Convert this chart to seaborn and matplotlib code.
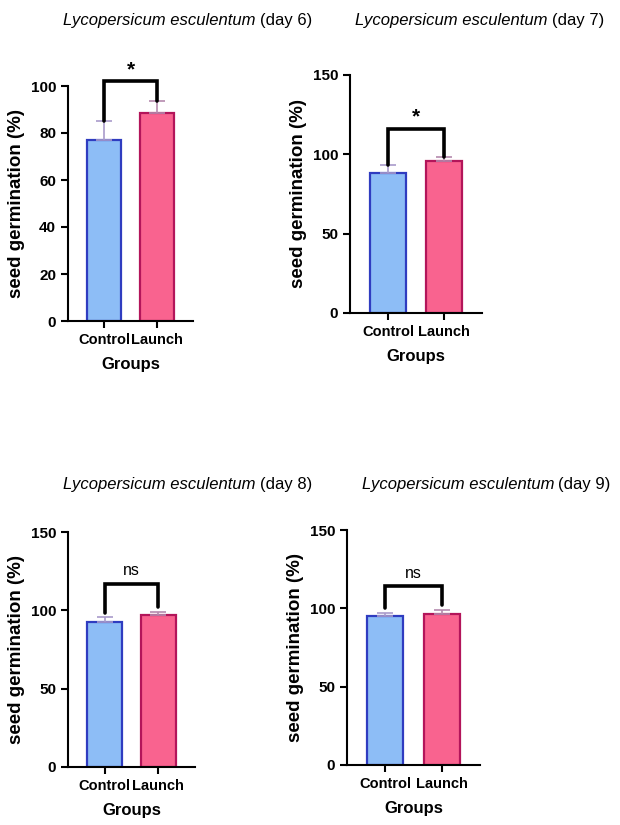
# seed germination bar charts, four days, control vs launch
import numpy as np
import pandas as pd
import matplotlib
matplotlib.use('Agg')
import matplotlib.pyplot as plt
import seaborn as sns

groups = ['Control', 'Launch']
days = ['day 6', 'day 7', 'day 8', 'day 9']
control_mean = [77, 88.5, 92.5, 95]
control_sd = [8, 5, 3, 2]
launch_mean = [88.5, 95.5, 97, 96.5]
launch_sd = [5, 3, 2, 2.5]
bracket_y = [102, 116, 117, 114]
signif = ['*', '*', 'ns', 'ns']
ymax = [100, 150, 150, 150]
ytick_step = [20, 50, 50, 50]

fill_colors = ['#8dbdf6', '#f9638f']
edge_colors = ['#2f3cc0', '#b3155a']
err_colors = ['#a99bcb', '#b58aae']

sns.set_style('ticks', {'axes.edgecolor': 'black', 'xtick.color': 'black',
                        'ytick.color': 'black', 'text.color': 'black',
                        'axes.labelcolor': 'black'})
plt.rcParams['font.family'] = ['Liberation Sans', 'DejaVu Sans']

fig = plt.figure(figsize=(6.2, 8.25), dpi=100)

# axes boxes in pixels (left, top, right, bottom), from the reference layout
boxes = [(68, 86, 193, 321), (350, 75, 482, 313),
         (68, 532, 195, 767), (347, 530, 480, 765)]
title_pos = [(63, 20), (355, 20), (63, 485), (362, 485)]

W, H = 620, 825
for i, day in enumerate(days):
    l, t, r, b = boxes[i]
    ax = fig.add_axes([l / W, 1 - b / H, (r - l) / W, (b - t) / H])
    df = pd.DataFrame({'group': groups,
                       'value': [control_mean[i], launch_mean[i]],
                       'sd': [control_sd[i], launch_sd[i]]})
    sns.barplot(data=df, x='group', y='value', hue='group', palette=fill_colors,
                saturation=1, legend=False, width=0.64, errorbar=None, ax=ax)
    for p, ec in zip(ax.patches, edge_colors):
        p.set_edgecolor(ec)
        p.set_linewidth(1.6)
    for j in range(2):
        ax.errorbar(j, df['value'][j], yerr=[[0], [df['sd'][j]]], fmt='none',
                    ecolor=err_colors[j], elinewidth=1.2, capsize=6, capthick=1.2, zorder=1)
    # significance bracket
    gap = 0.02 * ymax[i]
    y0 = df['value'][0] + df['sd'][0] + gap * (i >= 2)
    y1 = df['value'][1] + df['sd'][1] + gap * (i >= 2)
    by = bracket_y[i]
    ax.plot([0, 0, 1, 1], [y0, by, by, y1], color='black', lw=2.6,
            solid_joinstyle='miter', clip_on=False)
    if signif[i] == '*':
        ax.text(0.5, by + 0.05 * ymax[i], '*', ha='center', va='center',
                fontsize=15, fontweight='bold')
    else:
        ax.text(0.5, by + 0.055 * ymax[i], 'ns', ha='center', va='center',
                fontsize=11.5)
    ax.set_xlim(-0.68, 1.68)
    ax.set_ylim(0, ymax[i])
    ax.set_yticks(np.arange(0, ymax[i] + 1, ytick_step[i]))
    sns.despine(ax=ax)
    for s in ['left', 'bottom']:
        ax.spines[s].set_linewidth(1.5)
    ax.tick_params(width=1.5, length=5)
    ax.tick_params(axis='x', labelsize=10.5)
    ax.tick_params(axis='y', labelsize=11)
    for lab in ax.get_xticklabels() + ax.get_yticklabels():
        lab.set_fontweight('bold')
    ax.set_xlabel('Groups', fontsize=12, fontweight='bold', labelpad=7)
    ax.set_ylabel('seed germination (%)', fontsize=13.5, fontweight='bold', labelpad=4)

    # title: italic species name then regular day
    tx, ty = title_pos[i]
    t1 = fig.text(tx / W, 1 - ty / H, 'Lycopersicum esculentum', style='italic',
                  fontsize=12, va='center', ha='left')
    fig.canvas.draw()
    bb = t1.get_window_extent()
    fig.text((bb.x1 + 4) / W, 1 - ty / H, f'({day})', fontsize=12, va='center', ha='left')

fig.savefig('out.png', dpi=100)
